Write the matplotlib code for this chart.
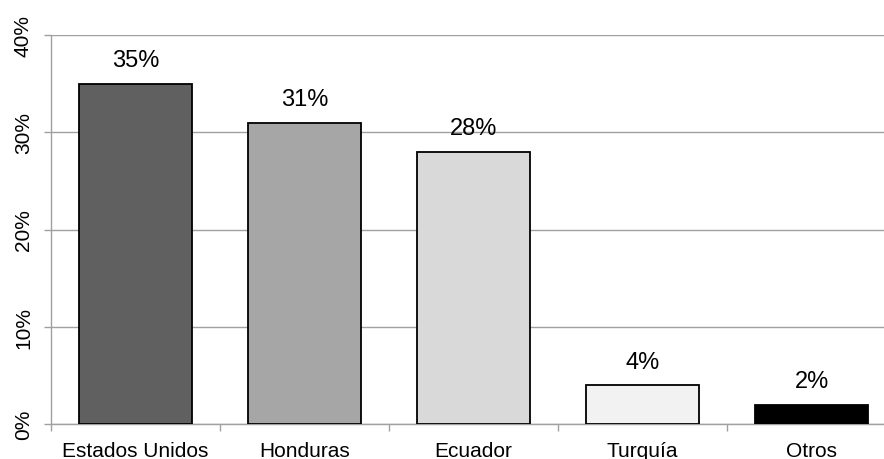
import matplotlib

matplotlib.use("Agg")
import matplotlib.pyplot as plt
from matplotlib.ticker import FixedLocator, PercentFormatter

categories = ["Estados Unidos", "Honduras", "Ecuador", "Turquía", "Otros"]
shares = [35, 31, 28, 4, 2]
bar_colors = ["#606060", "#a6a6a6", "#d9d9d9", "#f2f2f2", "#000000"]
y_ticks = [0, 10, 20, 30, 40]

plt.rcParams["font.family"] = ["Liberation Sans", "DejaVu Sans"]

fig = plt.figure(figsize=(8.84, 4.6), dpi=100)
# axes run slightly past the right edge, as in the reference crop
ax = fig.add_axes([51 / 884, 1 - 425 / 460, 845 / 884, 389 / 460])

x = list(range(len(categories)))
bars = ax.bar(x, shares, width=0.67, color=bar_colors, edgecolor="black",
              linewidth=1.3, zorder=3)
for bar, value in zip(bars, shares):
    ax.annotate(f"{value}%", (bar.get_x() + bar.get_width() / 2, value),
                xytext=(0, 9), textcoords="offset points",
                ha="center", va="bottom", fontsize=17, zorder=4)

ax.set_xlim(-0.5, len(categories) - 0.5)
ax.set_ylim(0, 40)
ax.yaxis.set_major_locator(FixedLocator(y_ticks))
ax.yaxis.set_major_formatter(PercentFormatter(decimals=0))
ax.grid(axis="y", color="#a0a0a0", linewidth=1.0, zorder=0)

ax.set_xticks(x)
ax.set_xticklabels(categories, fontsize=15)
ax.tick_params(axis="x", length=0, pad=12)
ax.set_xticks([i - 0.5 for i in range(len(categories) + 1)], minor=True)
ax.tick_params(axis="x", which="minor", length=5, color="#a0a0a0", width=1)
ax.tick_params(axis="y", length=5, color="#a0a0a0", width=1, labelsize=15, pad=8)
for label in ax.get_yticklabels():
    label.set_rotation(90)
    label.set_va("center")

for side in ("top", "right"):
    ax.spines[side].set_visible(False)
for side in ("left", "bottom"):
    ax.spines[side].set_color("#a0a0a0")
    ax.spines[side].set_linewidth(1.0)

fig.savefig("out.png", dpi=100)
